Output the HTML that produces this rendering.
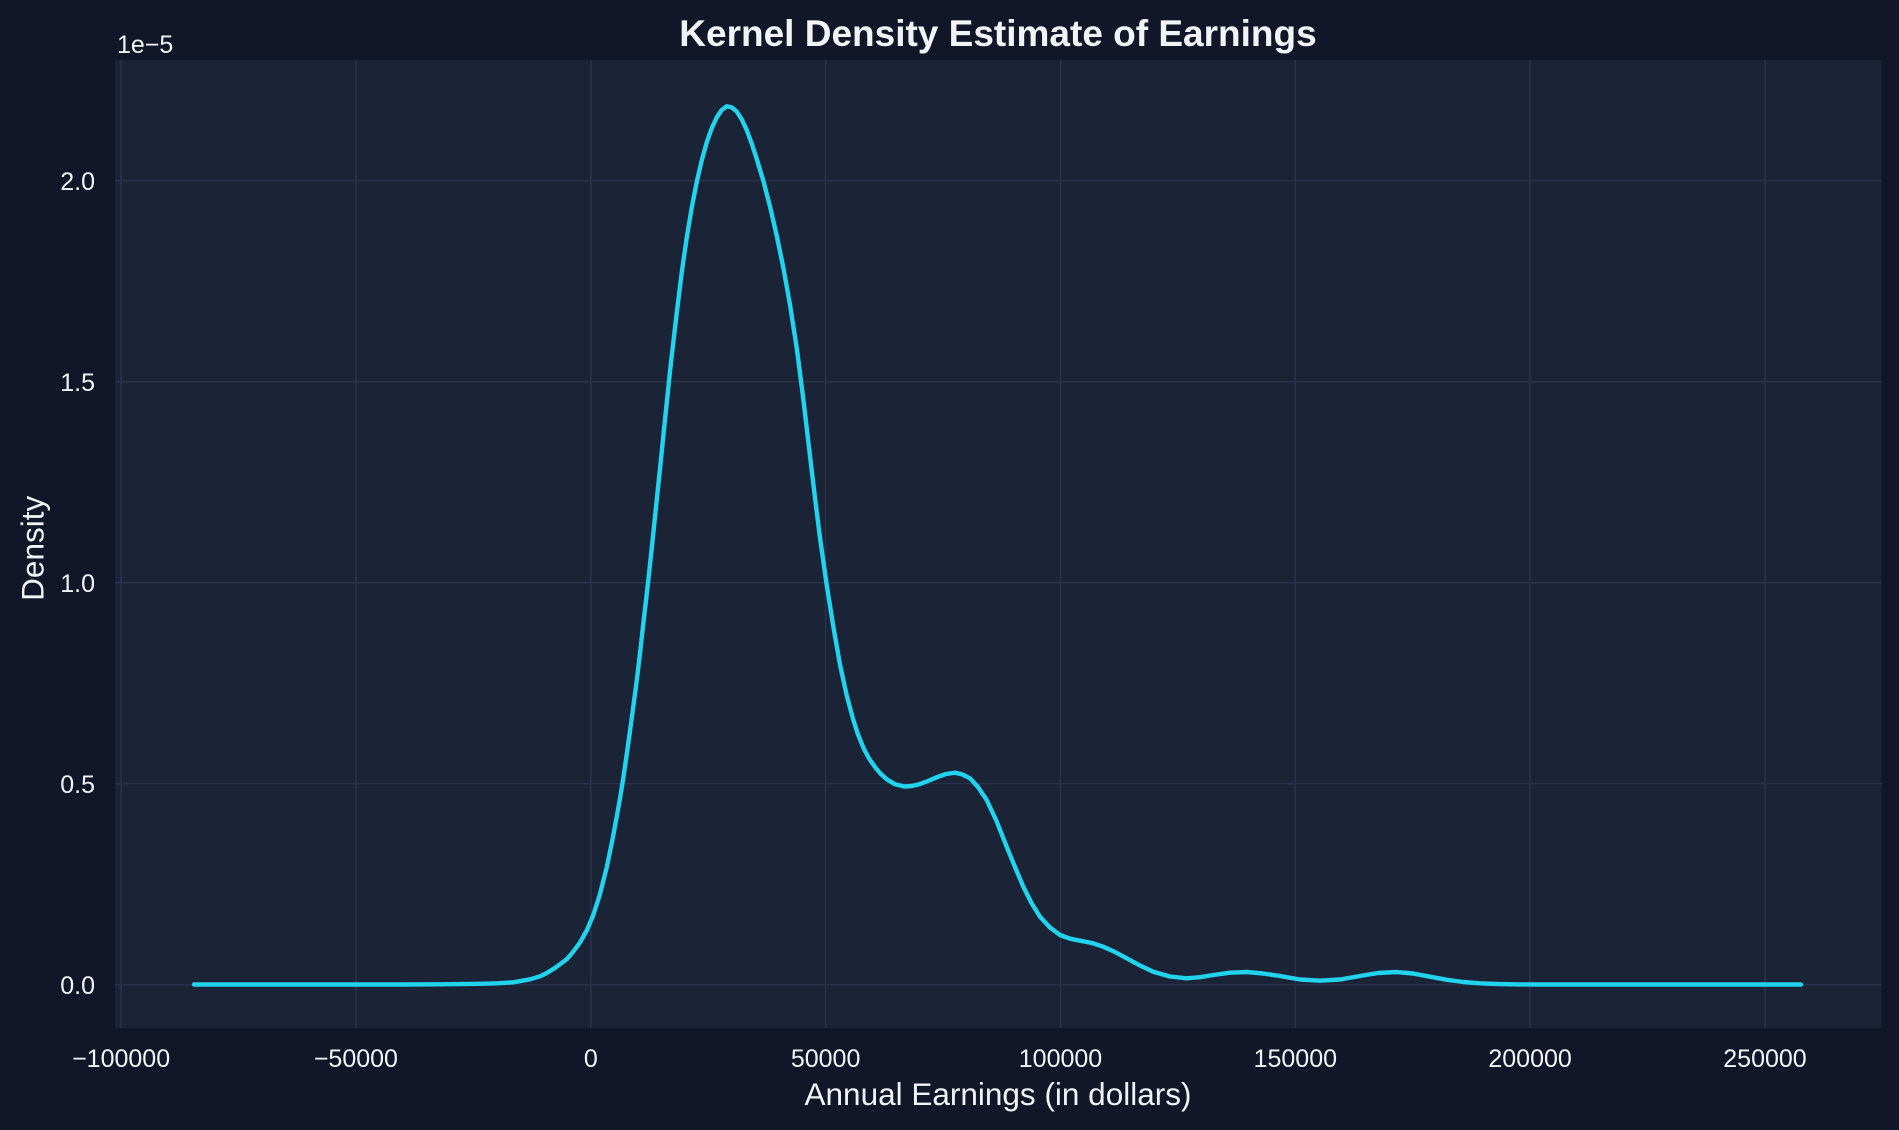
<!DOCTYPE html>
<html>
<head>
<meta charset="utf-8">
<style>
  html, body { margin: 0; padding: 0; background: #111629; }
  svg { display: block; }
  text { font-family: "Liberation Sans", Arial, sans-serif; fill: #f3f4f6; }
</style>
</head>
<body>
<svg width="1899" height="1130" viewBox="0 0 1899 1130" xmlns="http://www.w3.org/2000/svg">
  <rect x="0" y="0" width="1899" height="1130" fill="#111629"/>
  <!-- axes background -->
  <rect x="115" y="60" width="1766.5" height="968.3" fill="#1b2336"/>

  <!-- grid -->
  <g stroke="#28324a" stroke-width="1.6">
    <line x1="121.1" y1="60" x2="121.1" y2="1028.3"/>
    <line x1="355.9" y1="60" x2="355.9" y2="1028.3"/>
    <line x1="590.8" y1="60" x2="590.8" y2="1028.3"/>
    <line x1="825.6" y1="60" x2="825.6" y2="1028.3"/>
    <line x1="1060.5" y1="60" x2="1060.5" y2="1028.3"/>
    <line x1="1295.3" y1="60" x2="1295.3" y2="1028.3"/>
    <line x1="1530.1" y1="60" x2="1530.1" y2="1028.3"/>
    <line x1="1765.0" y1="60" x2="1765.0" y2="1028.3"/>
    <line x1="115" y1="984.7" x2="1881.5" y2="984.7"/>
    <line x1="115" y1="783.7" x2="1881.5" y2="783.7"/>
    <line x1="115" y1="582.7" x2="1881.5" y2="582.7"/>
    <line x1="115" y1="381.7" x2="1881.5" y2="381.7"/>
    <line x1="115" y1="180.7" x2="1881.5" y2="180.7"/>
  </g>

  <!-- KDE curve -->
  <polyline fill="none" stroke="#22d3ee" stroke-width="4.4" stroke-linejoin="round" stroke-linecap="round"
    points="194,984.5 400,984.5 440,984.3 460,984.1 480,983.8 497,983.3 513.3,982.3 530,979.3 540,976.3 546.7,973.1 556,967.3 566.7,959.3 573,952 580,942.5 587,930 593.3,915 600,894 606.7,867.5 611.7,843.5 616.7,817 620,798.5 623.3,778 627.5,749 631.7,718.5 636,686.5 640,653.5 644,617.5 648.3,580.5 652.5,541 656.7,500.5 661,459 665,419.5 670.8,364 676.7,313.3 681.7,272.8 686.7,237.8 691.7,207.8 696.7,182.3 701.7,160.5 706.7,142.5 711.7,128.3 716.7,117.5 721.7,110 726.7,106.3 731.7,107.3 736.7,111.5 741.7,119.3 746.7,130 751.7,143.5 756.7,158.8 763.3,180.6 770,206.4 776.7,235.5 783.3,267.5 790,304.7 796.7,347.6 803.3,399 810,455.9 815,497.9 820,537.9 826.7,584.8 833.3,626.4 840,664.6 846.7,695.4 853.3,719.8 858,734.4 863.3,747.6 869,758.4 875,767 880.5,773.6 886.7,779.3 895,784.2 904.3,786.5 912,786 920,784 928,781 936.7,777.3 946,774 955,772.7 962.5,774.5 970,778.3 978,787 986.7,800 996.5,821 1006.7,846.7 1015,867 1023.3,886.7 1031.5,903 1040,916.7 1050,927.5 1060,935 1070,938.7 1080,940.7 1092,943 1103.3,946.7 1115,952 1126.7,958.3 1140,965.5 1153.3,971.7 1170,976.5 1186.7,978.3 1200,977.2 1213.3,975 1230,972.7 1246.7,972 1263,973.5 1280,976 1300,979.5 1320,980.7 1340,979.5 1360,976 1378,973 1396.7,972 1413,973.5 1430,976.7 1447,979.8 1463.3,982 1480,983.3 1496.7,984 1520,984.4 1540,984.5 1801,984.5"/>

  <!-- title -->
  <text x="998" y="46" text-anchor="middle" font-size="37" font-weight="bold" fill="#ffffff">Kernel Density Estimate of Earnings</text>

  <!-- offset text -->
  <text x="117" y="53" font-size="25">1e−5</text>

  <!-- y tick labels -->
  <g font-size="25" text-anchor="end">
    <text x="95" y="994.2">0.0</text>
    <text x="95" y="793.2">0.5</text>
    <text x="95" y="592.2">1.0</text>
    <text x="95" y="391.2">1.5</text>
    <text x="95" y="190.2">2.0</text>
  </g>

  <!-- x tick labels -->
  <g font-size="25" text-anchor="middle">
    <text x="121.1" y="1067">−100000</text>
    <text x="355.9" y="1067">−50000</text>
    <text x="590.8" y="1067">0</text>
    <text x="825.6" y="1067">50000</text>
    <text x="1060.5" y="1067">100000</text>
    <text x="1295.3" y="1067">150000</text>
    <text x="1530.1" y="1067">200000</text>
    <text x="1765.0" y="1067">250000</text>
  </g>

  <!-- axis labels -->
  <text x="998" y="1105" text-anchor="middle" font-size="31.5">Annual Earnings (in dollars)</text>
  <text transform="translate(43.3,548.3) rotate(-90)" x="0" y="0" text-anchor="middle" font-size="31.5">Density</text>
</svg>
</body>
</html>
